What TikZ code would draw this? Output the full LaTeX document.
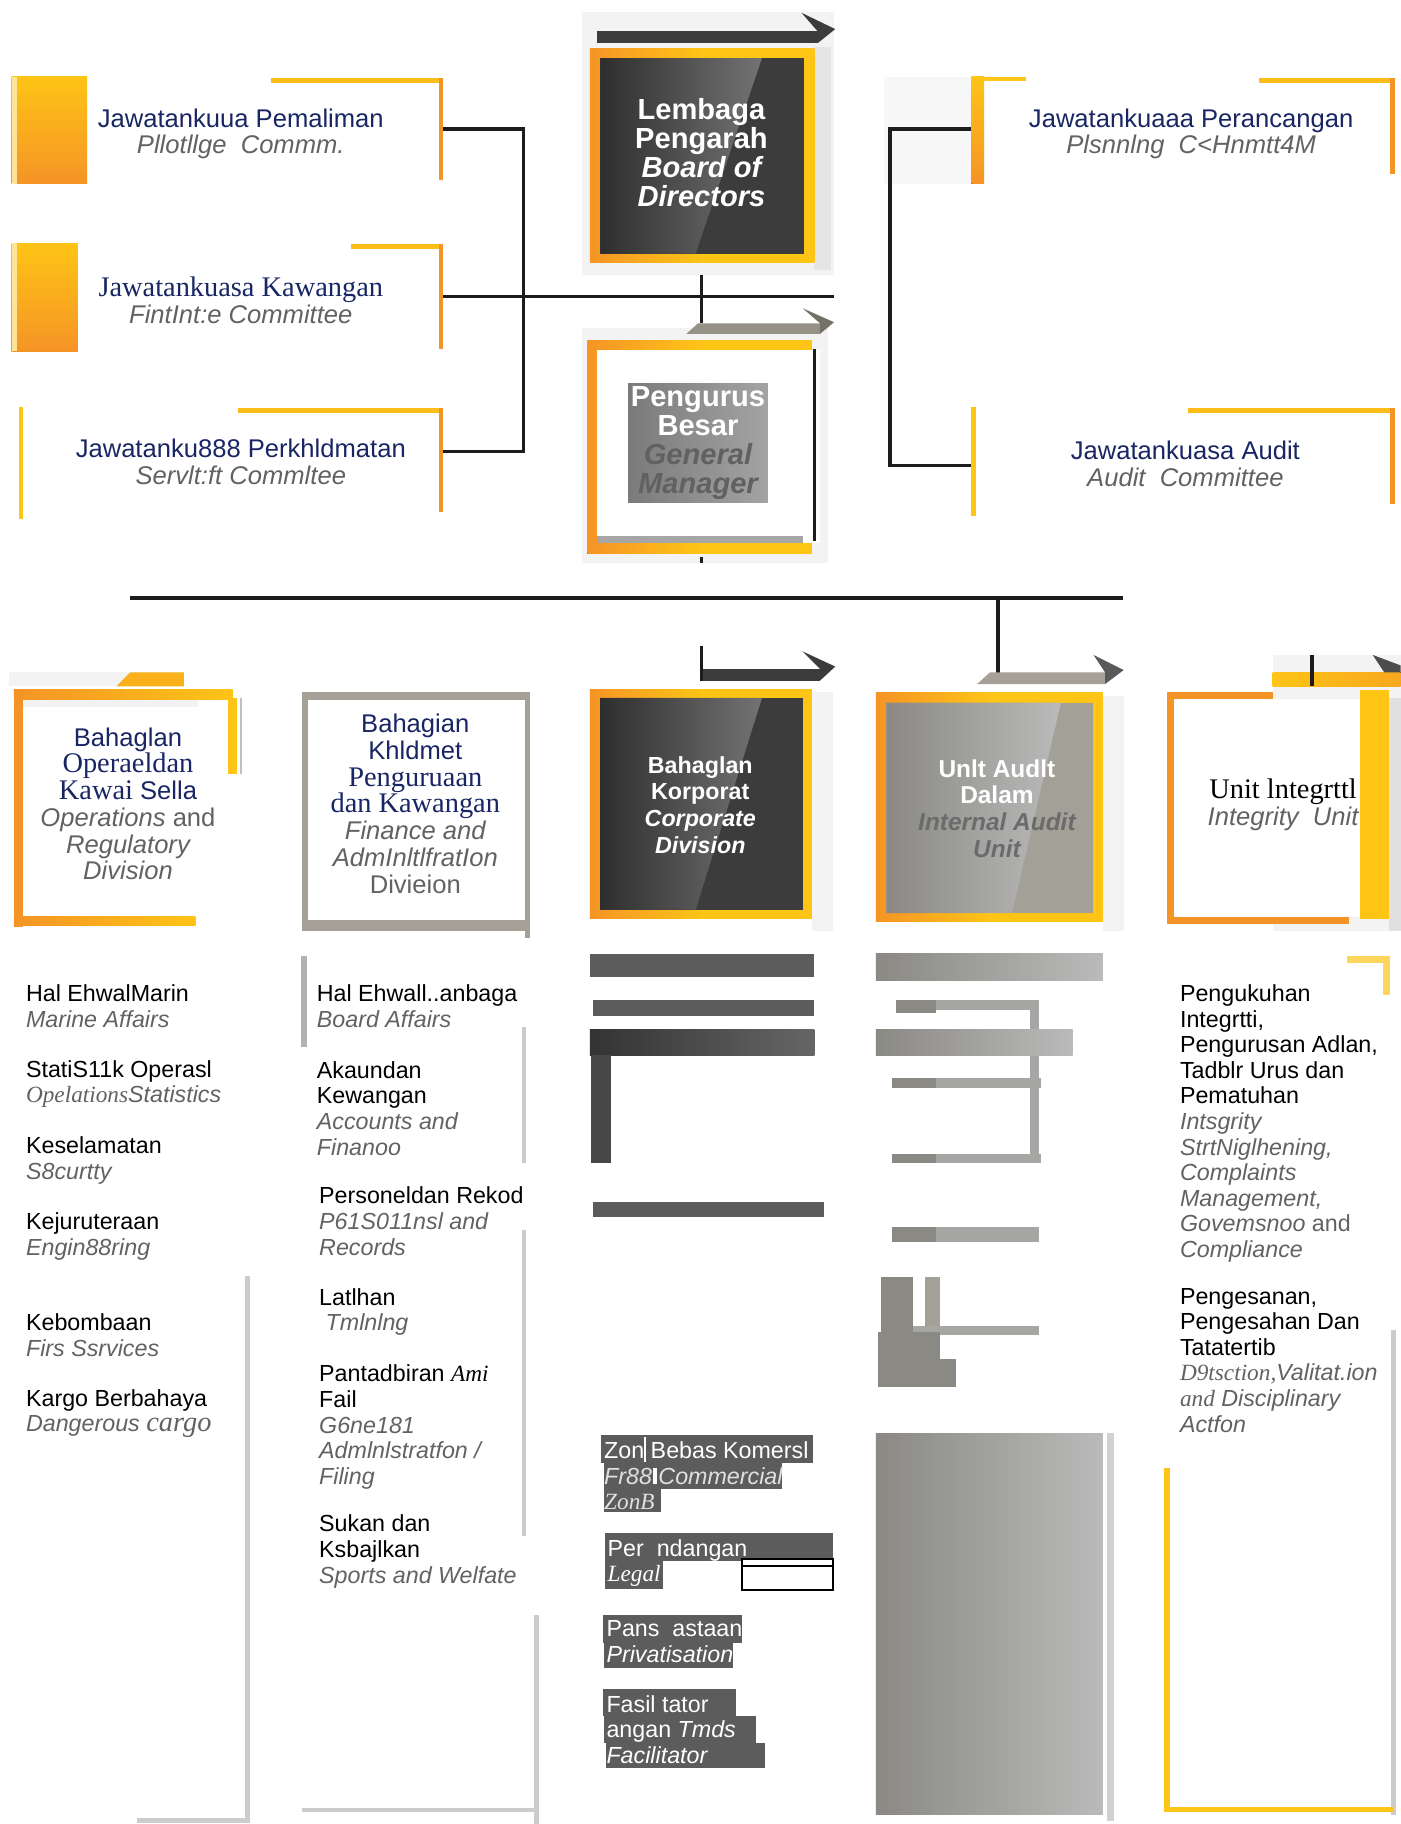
\documentclass[tikz,border=0pt]{standalone}
\usepackage{fontspec}
\setmainfont{Liberation Sans}
\newfontfamily\serifrm{Liberation Serif}
\usetikzlibrary{positioning}

\definecolor{orangeC}{RGB}{245,148,38}
\definecolor{yellowC}{RGB}{254,196,22}
\definecolor{navyC}{RGB}{24,38,100}
\definecolor{greyT}{RGB}{98,98,98}
\definecolor{darkC}{RGB}{60,60,60}
\definecolor{taupeC}{RGB}{166,161,150}
\definecolor{lineC}{RGB}{28,28,28}
\definecolor{lgreyC}{RGB}{204,204,204}
\definecolor{barC}{RGB}{92,92,92}
\definecolor{audC}{RGB}{166,166,164}
\definecolor{audD}{RGB}{138,137,132}
\definecolor{audL}{RGB}{186,186,186}
\definecolor{audT}{RGB}{163,160,152}
\definecolor{shadeC}{RGB}{243,243,243}

\newcommand{\engl}{\color{greyT}\itshape}
\newcommand{\srf}[1]{{\serifrm\fontsize{12.2}{11.5}\selectfont #1}}

\begin{document}
\begin{tikzpicture}[x=0.5pt, y=-0.5pt,
    conn/.style={draw=lineC, line width=1.5pt},
    cmte/.style={align=center, inner sep=0pt, text=navyC, font=\fontsize{11}{11.5}\selectfont},
    boxt/.style={align=center, inner sep=0pt, text=white, font=\bfseries\fontsize{12.5}{12.5}\selectfont},
    divt/.style={align=center, inner sep=0pt, text=navyC, font=\fontsize{11}{11.5}\selectfont},
    li/.style={anchor=north west, align=left, inner sep=0pt, font=\fontsize{10}{11}\selectfont},
    lw/.style={li, text=white},
    ]
  \useasboundingbox (0,0) rectangle (1204,1568);
  \fill[white] (0,0) rectangle (1204,1568);

  % committees, left
  \fill[top color=yellowC, bottom color=orangeC] (10,66) rectangle (75,158);
  \fill[yellowC!45] (10,66) rectangle (15,158);
  \fill[top color=yellowC, bottom color=orangeC] (10,209) rectangle (67,302);
  \fill[yellowC!45] (10,209) rectangle (15,302);
  \fill[yellowC] (16,350) rectangle (20,446);

  \fill[yellowC!85!orangeC] (233,67) rectangle (381,71);
  \fill[orangeC] (377,67) rectangle (381,155);
  \fill[yellowC!85!orangeC] (302,210) rectangle (381,214);
  \fill[orangeC] (377,210) rectangle (381,300);
  \fill[yellowC!85!orangeC] (205,351) rectangle (381,355);
  \fill[orangeC] (377,351) rectangle (381,440);

  \node[cmte] (pe) at (207,115) {Jawatankuua Pemaliman\\\engl Pllotllge\ \ Commm.};
  \node[cmte] (ka) at (207,258) {\srf{Jawatankuasa Kawangan}\\\engl FintInt:e Committee};
  \node[cmte] (pk) at (207,397) {Jawatanku888 Perkhldmatan\\\engl Servlt:ft Commltee};

  \coordinate (pe-e) at (381,111);
  \coordinate (ka-e) at (381,255);
  \coordinate (pk-e) at (381,388);
  \coordinate (jl) at (450,255);
  \coordinate (ka-x) at (717,255);
  \draw[conn] (pe-e) -| (jl) |- (pk-e);
  \draw[conn] (ka-e) -- (ka-x);

  % board of directors
  \fill[shadeC] (500,10) rectangle (717,236);
  \fill[black!10] (700,40) rectangle (714,232);
  \fill[darkC] (513,27) rectangle (703,37);
  \fill[darkC] (689,11) -- (718,25) -- (703,37) -- (703,27) -- cycle;
  \fill[left color=orangeC, right color=yellowC, middle color=yellowC] (507,42) rectangle (700,226);
  \fill[darkC] (516,50) rectangle (691,218);
  \shade[left color=black!82, right color=black!55] (516,50) -- (655,50) -- (598,218) -- (516,218) -- cycle;
  \node[boxt] (bd) at (603,131) {Lembaga\\Pengarah\\\itshape Board of\\\itshape Directors};

  \coordinate (bd-s) at (603,236);
  \coordinate (gm-n) at (603,278);
  \draw[conn] (bd-s) -- (gm-n);

  % general manager
  \fill[shadeC] (500,282) rectangle (712,484);
  \fill[taupeC!90!black] (590,287) -- (600,278) -- (705,278) -- (705,287) -- cycle;
  \fill[taupeC!70!black] (690,265) -- (717,277) -- (705,287) -- (705,278) -- cycle;
  \fill[left color=orangeC, right color=yellowC, middle color=yellowC] (505,293) rectangle (698,476);
  \fill[white] (513,301) rectangle (705,467);
  \fill[black!35] (513,461) rectangle (690,467);
  \draw[lineC, line width=1.5pt] (700,300) -- (700,465);
  \shade[left color=black!52, right color=black!36] (540,330) rectangle (660,432);
  \node[boxt] (gm) at (600,381) {Pengurus\\Besar\\\color{black!62}\itshape General\\\color{black!62}\itshape Manager};
  \draw[lineC, line width=1pt] (603,479) -- (603,484);

  % committees, right
  \fill[black!3] (760,66) rectangle (835,158);
  \fill[top color=yellowC, bottom color=orangeC] (835,66) rectangle (846,158);
  \fill[yellowC] (846,66) rectangle (882,70);
  \fill[yellowC!85!orangeC] (1082,67) rectangle (1199,71);
  \fill[orangeC] (1195,67) rectangle (1199,150);
  \fill[yellowC] (835,350) rectangle (839,444);
  \fill[yellowC!85!orangeC] (1021,351) rectangle (1199,355);
  \fill[orangeC] (1195,351) rectangle (1199,433);

  \node[cmte] (pr) at (1024,115) {Jawatankuaaa Perancangan\\\engl Plsnnlng\ \ C<Hnmtt4M};
  \node[cmte] (au) at (1019,399) {Jawatankuasa Audit\\\engl Audit\ \ Committee};

  \coordinate (pr-w) at (835,111);
  \coordinate (au-w) at (835,400);
  \coordinate (jr) at (765,255);
  \draw[conn] (pr-w) -| (jr) |- (au-w);

  % divisions line
  \coordinate (hl-w) at (112,514);
  \coordinate (hl-e) at (965,514);
  \coordinate (hl-a) at (858,514);
  \coordinate (ia-n) at (858,579);
  \draw[conn] (hl-w) -- (hl-e);
  \draw[conn] (hl-a) -- (ia-n);

  % operations division
  \fill[shadeC] (8,578) rectangle (158,590);
  \fill[yellowC!60!orangeC] (100,590) -- (112,578) -- (158,578) -- (158,590) -- cycle;
  \fill[left color=orangeC, right color=yellowC] (12,593) rectangle (200,601);
  \fill[orangeC] (12,593) rectangle (20,797);
  \fill[yellowC] (196,600) rectangle (204,665);
  \fill[black!25] (206,600) rectangle (208,665);
  \fill[left color=orangeC, right color=yellowC] (12,788) rectangle (168,796);
  \fill[black!5] (20,602) rectangle (170,608);
  \node[divt] (op) at (110,691) {Bahaglan\\\srf{Operaeldan}\\\srf{Kawai} Sella\\\engl Operations {\upshape and}\\\engl Regulatory\\\engl Division};

  % finance division
  \fill[taupeC] (260,595) rectangle (456,800);
  \fill[white] (265,602) rectangle (451,791);
  \fill[taupeC] (451,800) rectangle (456,806);
  \node[divt] (fi) at (357,691) {Bahagian\\Khldmet\\\srf{Penguruaan}\\\srf{dan Kawangan}\\\engl Finance and\\\engl AdmInltlfratIon\\\color{greyT}Divieion};

  % corporate division
  \fill[shadeC] (698,595) rectangle (716,800);
  \fill[darkC] (603,575) rectangle (705,585);
  \fill[darkC] (690,560) -- (718,573) -- (705,585) -- (705,575) -- cycle;
  \draw[conn] (603,555) -- (603,585);
  \fill[left color=orangeC, right color=yellowC, middle color=yellowC] (507,593) rectangle (698,790);
  \fill[darkC] (516,600) rectangle (690,782);
  \shade[left color=black!82, right color=black!55] (516,600) -- (655,600) -- (598,782) -- (516,782) -- cycle;
  \node[boxt, font=\bfseries\fontsize{10}{11.5}\selectfont] (ko) at (602,692) {Bahaglan\\Korporat\\\itshape Corporate\\\itshape Division};

  % internal audit unit
  \fill[shadeC] (948,598) rectangle (966,800);
  \fill[taupeC] (840,588) -- (851,578) -- (950,578) -- (950,588) -- cycle;
  \fill[black!65] (940,563) -- (966,576) -- (950,588) -- (950,578) -- cycle;
  \fill[left color=orangeC, right color=yellowC, middle color=yellowC] (753,595) rectangle (948,792);
  \fill[audT] (762,604) rectangle (940,785);
  \shade[left color=audD, right color=audL] (762,604) -- (912,604) -- (870,785) -- (762,785) -- cycle;
  \node[boxt, font=\bfseries\fontsize{10.5}{11.5}\selectfont] (ia) at (857,695) {Unlt Audlt\\Dalam\\\color{black!58}\itshape Internal Audit\\\color{black!58}\itshape Unit};

  % integrity unit
  \fill[shadeC] (1094,563) rectangle (1204,800);
  \fill[left color=yellowC, right color=orangeC!60!yellowC] (1094,578) rectangle (1204,590);
  \fill[black!70] (1180,563) -- (1204,572) -- (1204,578) -- (1190,578) -- cycle;
  \draw[conn] (1128,563) -- (1128,590);
  \fill[white] (1009,601) rectangle (1169,788);
  \fill[yellowC] (1169,593) rectangle (1194,790);
  \fill[orangeC] (1003,595) rectangle (1009,794);
  \fill[orangeC] (1003,595) rectangle (1094,601);
  \fill[orangeC] (1003,788) rectangle (1160,794);
  \fill[black!12] (1194,600) rectangle (1204,800);
  \node[align=center, inner sep=0pt, font=\fontsize{11}{11.5}\selectfont] (in) at (1103,692) {\srf{Unit lntegrttl}\\\engl Integrity\ \ Unit};
  \fill[yellowC!70] (1158,822) rectangle (1195,828);
  \fill[yellowC!70] (1189,822) rectangle (1195,855);

  % operations sections
  \node[li] (ma) at (22,846) {Hal EhwalMarin\\\engl Marine Affairs};
  \node[li] (os) at (22,911) {StatiS11k Operasl\\\engl{\serifrm Opelations}Statistics};
  \node[li] (se) at (22,977) {Keselamatan\\\engl S8curtty};
  \node[li] (en) at (22,1042) {Kejuruteraan\\\engl Engin88ring};
  \node[li] (fs) at (22,1129) {Kebombaan\\\engl Firs Ssrvices};
  \node[li] (dc) at (22,1194) {Kargo Berbahaya\\\engl Dangerous \srf{cargo}};
  \fill[lgreyC] (211,1097) rectangle (215,1567);
  \fill[lgreyC] (118,1563) rectangle (215,1567);

  % finance sections
  \fill[black!30] (259,822) rectangle (264,900);
  \fill[lgreyC] (449,883) rectangle (452,1000);
  \fill[lgreyC] (449,1057) rectangle (452,1320);
  \fill[lgreyC] (459,1388) rectangle (463,1568);
  \fill[lgreyC] (260,1554) rectangle (463,1558);
  \node[li] (ba) at (272,846) {Hal Ehwall..anbaga\\\engl Board Affairs};
  \node[li] (ak) at (272,912) {Akaundan\\Kewangan\\\engl Accounts and\\\engl Finanoo};
  \node[li] (pd) at (274,1020) {Personeldan Rekod\\\engl P61S011nsl and\\\engl Records};
  \node[li] (la) at (274,1107) {Latlhan\\\engl\ Tmlnlng};
  \node[li] (pf) at (274,1173) {Pantadbiran {\serifrm\itshape Ami}\\Fail\\\engl G6ne181\\\engl Admlnlstratfon /\\\engl Filing};
  \node[li] (sk) at (274,1302) {Sukan dan\\Ksbajlkan\\\engl Sports and Welfate};

  % corporate sections
  \fill[barC] (507,820) rectangle (700,840);
  \fill[barC] (510,860) rectangle (700,873);
  \fill[left color=black!80, right color=black!60] (507,885) rectangle (700,907);
  \fill[black!72] (508,907) rectangle (525,1000);
  \fill[barC] (510,1033) rectangle (708,1046);

  \fill[barC] (517,1234) rectangle (699,1258);
  \fill[barC] (519,1258) rectangle (672,1280);
  \fill[barC] (519,1280) rectangle (568,1300);
  \node[lw] (zb) at (519,1239) {Zon Bebas Komersl\\\color{black!12}\itshape Fr88 Commercial\\\color{black!12}{\serifrm\itshape ZonB}};
  \fill[white] (554,1235) rectangle (555.5,1257);
  \fill[white] (561,1262) rectangle (565,1276);

  \fill[barC] (520,1318) rectangle (716,1342);
  \fill[barC] (520,1342) rectangle (570,1366);
  \node[lw] (lg) at (522,1323) {Per\ \ ndangan\\{\serifrm\itshape Legal}};
  \draw[black, fill=white, line width=0.8pt] (638,1340) rectangle (716,1367);
  \draw[black, line width=0.8pt] (638,1346) -- (716,1346);

  \fill[barC] (518,1388) rectangle (638,1412);
  \fill[barC] (519,1412) rectangle (630,1434);
  \node[lw] (pv) at (521,1393) {Pans\ \ astaan\\\itshape Privatisation};

  \fill[barC] (518,1452) rectangle (633,1475);
  \fill[barC] (519,1475) rectangle (650,1498);
  \fill[barC] (521,1498) rectangle (658,1520);
  \node[lw] (tf) at (521,1457) {Fasil tator\\angan {\itshape Tmds}\\\itshape Facilitator};

  % internal audit sections
  \fill[left color=audD, right color=audL] (753,820) rectangle (948,843);
  \fill[audD] (770,860) rectangle (805,871);
  \fill[audC] (805,860) rectangle (893,868);
  \fill[audC] (885,860) rectangle (893,1000);
  \fill[left color=audD, right color=audL] (753,885) rectangle (922,907);
  \fill[audD] (767,927) rectangle (805,935);
  \fill[audC] (805,927) rectangle (895,935);
  \fill[audD] (767,992) rectangle (805,1000);
  \fill[audC] (805,992) rectangle (895,1000);
  \fill[audD] (767,1055) rectangle (805,1068);
  \fill[audC] (805,1055) rectangle (893,1068);
  \fill[audD] (757,1098) rectangle (785,1150);
  \fill[audT] (795,1098) rectangle (808,1145);
  \fill[audC] (785,1140) rectangle (893,1148);
  \fill[audD] (755,1145) rectangle (808,1168);
  \fill[audD] (755,1168) rectangle (822,1192);
  \fill[left color=audD, right color=audL] (753,1232) rectangle (948,1560);
  \fill[black!18] (952,1232) rectangle (958,1565);

  % integrity sections
  \node[li] (pi) at (1014,846) {Pengukuhan\\Integrtti,\\Pengurusan Adlan,\\Tadblr Urus dan\\Pematuhan\\\engl Intsgrity\\\engl StrtNiglhening,\\\engl Complaints\\\engl Management,\\\engl Govemsnoo {\upshape and}\\\engl Compliance};
  \node[li] (pt) at (1014,1107) {Pengesanan,\\Pengesahan Dan\\Tatatertib\\\engl{\serifrm D9tsction,}Valitat.ion\\\engl{\serifrm and} Disciplinary\\\engl Actfon};
  \fill[lgreyC] (1196,1143) rectangle (1200,1560);
  \fill[yellowC] (1001,1262) rectangle (1006,1558);
  \fill[yellowC] (1001,1553) rectangle (1198,1558);
\end{tikzpicture}
\end{document}
